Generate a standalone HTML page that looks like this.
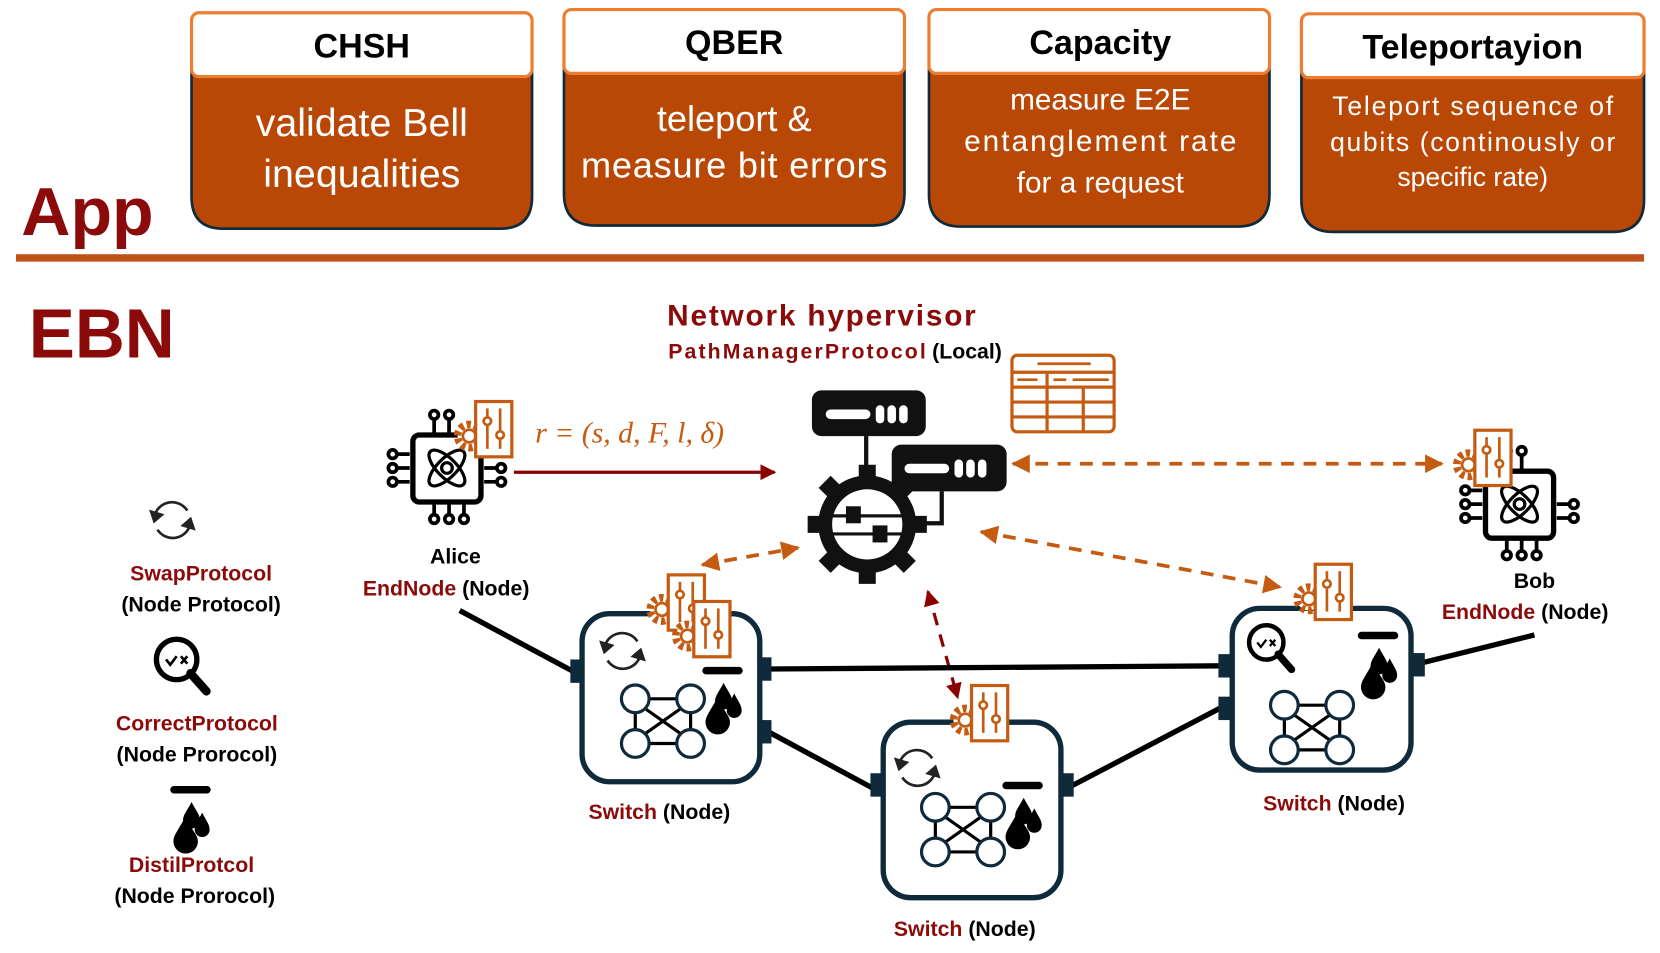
<!DOCTYPE html>
<html><head><meta charset="utf-8"><style>
html,body{margin:0;padding:0;background:#fff;}
svg{display:block;}
text{font-family:"Liberation Sans",sans-serif;}
text.serif{font-family:"Liberation Serif",serif;}
</style></head><body>
<svg width="1660" height="953" viewBox="0 0 1560 896" preserveAspectRatio="none" xmlns="http://www.w3.org/2000/svg">
<defs>
 <marker id="ar" viewBox="0 0 10 10" refX="9" refY="5" markerWidth="5" markerHeight="5" orient="auto-start-reverse"><path d="M0,0L10,5L0,10z" fill="#c55a11"/></marker>
 <marker id="ard" viewBox="0 0 10 10" refX="9" refY="5" markerWidth="5" markerHeight="5" orient="auto-start-reverse"><path d="M0,0L10,5L0,10z" fill="#8b0000"/></marker>
 <marker id="arr" viewBox="0 0 10 10" refX="9" refY="5" markerWidth="5" markerHeight="5" orient="auto"><path d="M0,0L10,5L0,10z" fill="#8b0000"/></marker>
 <g id="ctrl">
  <circle cx="16" cy="34" r="11" fill="#fff" stroke="#c55a11" stroke-width="7" stroke-dasharray="4 3"/>
  <circle cx="16" cy="34" r="6" fill="#fff" stroke="#c55a11" stroke-width="2.5"/>
  <rect x="22" y="1.5" width="34" height="52" fill="#fff" stroke="#c55a11" stroke-width="3"/>
  <line x1="33" y1="8" x2="33" y2="46" stroke="#c55a11" stroke-width="2.5"/>
  <line x1="45" y1="8" x2="45" y2="46" stroke="#c55a11" stroke-width="2.5"/>
  <circle cx="33" cy="20" r="3.5" fill="#fff" stroke="#c55a11" stroke-width="2.5"/>
  <circle cx="45" cy="33" r="3.5" fill="#fff" stroke="#c55a11" stroke-width="2.5"/>
 </g>
 <g id="graph" stroke="#0f2a3a" stroke-width="3" fill="#fff">
  <path d="M13,0H39M13,42H39M0,13V29M52,13V29M9,9L43,33M43,9L9,33" stroke="#000"/>
  <circle cx="0" cy="0" r="13"/><circle cx="52" cy="0" r="13"/><circle cx="0" cy="42" r="13"/><circle cx="52" cy="42" r="13"/>
 </g>
 <g id="drops" fill="#000">
  <rect x="-20" y="-33" width="38" height="7" rx="3.5"/>
  <path d="M0,-18 C4,-10 8,-6 8,-1 A8,8 0 0 1 -8,-1 C-8,-6 -4,-10 0,-18z"/>
  <path d="M10,-8 C14,0 17,3 17,8 A7,7 0 0 1 3,8 C3,3 6,0 10,-8z"/>
  <path d="M-6,-4 C0,8 6,13 6,19 A11,11 0 0 1 -17,19 C-17,13 -12,8 -6,-4z"/>
 </g>
 <g id="swap" fill="none" stroke="#222" stroke-width="2.5">
  <path d="M-17,-3 A17,17 0 0 1 14,-9"/><path d="M17,3 A17,17 0 0 1 -14,9"/>
  <path d="M-20,-8 L-17,1 L-10,-5z" fill="#222"/><path d="M20,8 L17,-1 L10,5z" fill="#222"/>
 </g>
 <g id="mag">
  <circle cx="0" cy="0" r="19" fill="#fff" stroke="#000" stroke-width="5"/>
  <path d="M13,13L28,30" stroke="#000" stroke-width="8" stroke-linecap="round"/>
  <path d="M-10,0L-6,5L0,-3" fill="none" stroke="#000" stroke-width="2.5"/>
  <path d="M4,-3L10,4M10,-3L4,4" stroke="#000" stroke-width="2.5"/>
 </g>
 <g id="chip" fill="none" stroke="#000" stroke-width="3.5">
  <rect x="0" y="0" width="64" height="63" rx="6" stroke-width="5"/>
  <path d="M20,0V-15M34,0V-15M-3,18H-15M-3,31H-15M-3,44H-15M67,31H79M67,44H79M20,63V75M34,63V75M48,63V75"/>
  <g fill="#fff"><circle cx="20" cy="-19" r="4"/><circle cx="34" cy="-19" r="4"/><circle cx="-19" cy="18" r="4"/><circle cx="-19" cy="31" r="4"/><circle cx="-19" cy="44" r="4"/><circle cx="83" cy="31" r="4"/><circle cx="83" cy="44" r="4"/><circle cx="20" cy="79" r="4"/><circle cx="34" cy="79" r="4"/><circle cx="48" cy="79" r="4"/></g>
  <ellipse cx="32" cy="31" rx="22" ry="9" transform="rotate(45 32 31)" stroke-width="3"/>
  <ellipse cx="32" cy="31" rx="22" ry="9" transform="rotate(-45 32 31)" stroke-width="3"/>
  <circle cx="32" cy="31" r="5" stroke-width="3"/>
 </g>
</defs>

<!-- App boxes -->
<g>
 <path d="M180,60 H500 V185 Q500,215 470,215 H210 Q180,215 180,185z" fill="#b94807" stroke="#0f2a3a" stroke-width="2.5"/>
 <rect x="180" y="12" width="320" height="60" rx="7" fill="#fff" stroke="#ed7d31" stroke-width="3"/>
 <text x="340" y="54" font-size="32" font-weight="bold" text-anchor="middle">CHSH</text>
 <text x="340" y="128" font-size="37" fill="#fff" text-anchor="middle">validate Bell</text>
 <text x="340" y="176" font-size="37" fill="#fff" text-anchor="middle">inequalities</text>

 <path d="M530,58 H850 V182 Q850,212 820,212 H560 Q530,212 530,182z" fill="#b94807" stroke="#0f2a3a" stroke-width="2.5"/>
 <rect x="530" y="9" width="320" height="60" rx="7" fill="#fff" stroke="#ed7d31" stroke-width="3"/>
 <text x="690" y="51" font-size="32" font-weight="bold" text-anchor="middle">QBER</text>
 <text x="690" y="123" font-size="34" fill="#fff" text-anchor="middle">teleport  &amp;</text>
 <text x="690" y="167" font-size="34" fill="#fff" text-anchor="middle" textLength="288">measure bit errors</text>

 <path d="M873,58 H1193 V183 Q1193,213 1163,213 H903 Q873,213 873,183z" fill="#b94807" stroke="#0f2a3a" stroke-width="2.5"/>
 <rect x="873" y="9" width="320" height="60" rx="7" fill="#fff" stroke="#ed7d31" stroke-width="3"/>
 <text x="1034" y="51" font-size="32" font-weight="bold" text-anchor="middle">Capacity</text>
 <text x="1034" y="103" font-size="28" fill="#fff" text-anchor="middle">measure  E2E</text>
 <text x="1034" y="142" font-size="28" fill="#fff" text-anchor="middle" textLength="256">entanglement rate</text>
 <text x="1034" y="181" font-size="28" fill="#fff" text-anchor="middle">for a request</text>

 <path d="M1223,62 H1545 V188 Q1545,218 1515,218 H1253 Q1223,218 1223,188z" fill="#b94807" stroke="#0f2a3a" stroke-width="2.5"/>
 <rect x="1223" y="13" width="322" height="60" rx="7" fill="#fff" stroke="#ed7d31" stroke-width="3"/>
 <text x="1384" y="55" font-size="32" font-weight="bold" text-anchor="middle">Teleportayion</text>
 <text x="1384" y="108" font-size="25" fill="#fff" text-anchor="middle" textLength="264">Teleport  sequence of</text>
 <text x="1384" y="142" font-size="25" fill="#fff" text-anchor="middle" textLength="268">qubits (continously or</text>
 <text x="1384" y="175" font-size="25" fill="#fff" text-anchor="middle">specific rate)</text>
</g>
<text x="20" y="221" font-size="64" font-weight="bold" fill="#8b0a0a">App</text>
<rect x="15" y="239" width="1530" height="7" fill="#c0501a"/>
<text x="27" y="336" font-size="65" font-weight="bold" fill="#8b0a0a">EBN</text>

<!-- hypervisor -->
<text x="627" y="306" font-size="28" font-weight="bold" fill="#8b0a0a" textLength="290">Network hypervisor</text>
<text x="628" y="337" font-size="20" font-weight="bold" fill="#8b0a0a" textLength="242">PathManagerProtocol</text>
<text x="876" y="337" font-size="20" font-weight="bold" fill="#000">(Local)</text>
<g stroke="#c55a11" stroke-width="3" fill="none">
 <rect x="951" y="334" width="96" height="72" rx="5"/>
 <path d="M951,350H1047M951,364H1047M951,378H1047M951,392H1047M984,350V406M1018,364V406"/>
 <path d="M975,342H1025M956,357H975M990,357H1002M1008,357H1042" stroke-width="2.5"/>
</g>
<!-- server gear -->
<g fill="#111">
 <rect x="763" y="367" width="107" height="43" rx="9"/>
 <rect x="838" y="418" width="108" height="44" rx="9"/>
 <rect x="776" y="385" width="42" height="9" rx="4.5" fill="#fff"/>
 <rect x="823" y="381" width="8" height="17" rx="4" fill="#fff"/><rect x="834" y="381" width="8" height="17" rx="4" fill="#fff"/><rect x="845" y="381" width="8" height="17" rx="4" fill="#fff"/>
 <rect x="850" y="436" width="42" height="9" rx="4.5" fill="#fff"/>
 <rect x="897" y="432" width="8" height="17" rx="4" fill="#fff"/><rect x="908" y="432" width="8" height="17" rx="4" fill="#fff"/><rect x="919" y="432" width="8" height="17" rx="4" fill="#fff"/>
 <rect x="812" y="410" width="4" height="30"/>
 <path d="M885,462V492H870" fill="none" stroke="#111" stroke-width="4"/>
 <circle cx="815" cy="493" r="46"/>
 <g stroke="#111" stroke-width="16">
  <path d="M815,437V549M759,493H871M775,453L855,533M855,453L775,533"/>
 </g>
 <circle cx="815" cy="493" r="33" fill="#fff"/>
 <path d="M782,485H848M782,502H848" stroke="#111" stroke-width="3"/>
 <rect x="795" y="476" width="14" height="16"/><rect x="820" y="494" width="14" height="16"/>
</g>

<!-- arrows -->
<line x1="483" y1="444" x2="728" y2="444" stroke="#8b0000" stroke-width="3" marker-end="url(#arr)"/>
<text class="serif" x="503" y="416" font-style="italic" font-size="28" fill="#c55a11">r = (s, d, F, l, δ)</text>
<g stroke="#c55a11" stroke-width="3.5" stroke-dasharray="12 9" fill="none">
 <line x1="952" y1="436" x2="1355" y2="436" marker-start="url(#ar)" marker-end="url(#ar)"/>
 <line x1="660" y1="531" x2="750" y2="515" marker-start="url(#ar)" marker-end="url(#ar)"/>
 <line x1="922" y1="500" x2="1203" y2="552" marker-start="url(#ar)" marker-end="url(#ar)"/>
</g>
<line x1="872" y1="556" x2="900" y2="656" stroke="#8b0000" stroke-width="3" stroke-dasharray="12 9" marker-start="url(#ard)" marker-end="url(#ard)"/>

<!-- links -->
<g stroke="#000" stroke-width="5">
 <line x1="432" y1="574" x2="540" y2="632"/>
 <line x1="722" y1="629" x2="1150" y2="626"/>
 <line x1="722" y1="688" x2="822" y2="742"/>
 <line x1="1005" y1="740" x2="1150" y2="664"/>
 <line x1="1333" y1="624" x2="1442" y2="597"/>
</g>

<!-- Alice / Bob -->
<use href="#chip" x="388" y="409"/>
<use href="#ctrl" x="425" y="376"/>
<text x="428" y="530" font-size="20" font-weight="bold" text-anchor="middle">Alice</text>
<text x="341" y="560" font-size="20" font-weight="bold"><tspan fill="#8b0a0a">EndNode</tspan> (Node)</text>
<use href="#chip" x="1396" y="443"/>
<use href="#ctrl" x="1364" y="403"/>
<text x="1442" y="553" font-size="20" font-weight="bold" text-anchor="middle">Bob</text>
<text x="1355" y="582" font-size="20" font-weight="bold"><tspan fill="#8b0a0a">EndNode</tspan> (Node)</text>

<!-- Switch 1 -->
<g>
 <rect x="536" y="620" width="12" height="22" fill="#0f2a3a"/><rect x="713" y="618" width="12" height="22" fill="#0f2a3a"/><rect x="713" y="677" width="12" height="22" fill="#0f2a3a"/>
 <rect x="547" y="577" width="167" height="158" rx="26" fill="#fff" stroke="#0f2a3a" stroke-width="5"/>
 <use href="#swap" x="585" y="612"/>
 <use href="#graph" x="597" y="657"/>
 <use href="#drops" x="680" y="660"/>
 <use href="#ctrl" x="606" y="539"/>
 <use href="#ctrl" x="630" y="564"/>
 <text x="553" y="770" font-size="20" font-weight="bold"><tspan fill="#8b0a0a">Switch</tspan> (Node)</text>
</g>
<!-- Switch 2 -->
<g>
 <rect x="818" y="727" width="12" height="22" fill="#0f2a3a"/><rect x="997" y="727" width="12" height="22" fill="#0f2a3a"/>
 <rect x="830" y="679" width="167" height="165" rx="26" fill="#fff" stroke="#0f2a3a" stroke-width="5"/>
 <use href="#swap" x="862" y="722"/>
 <use href="#graph" x="879" y="759"/>
 <use href="#drops" x="962" y="768"/>
 <use href="#ctrl" x="891" y="643"/>
 <text x="840" y="880" font-size="20" font-weight="bold"><tspan fill="#8b0a0a">Switch</tspan> (Node)</text>
</g>
<!-- Switch 3 -->
<g>
 <rect x="1145" y="615" width="12" height="22" fill="#0f2a3a"/><rect x="1145" y="655" width="12" height="22" fill="#0f2a3a"/><rect x="1327" y="614" width="12" height="22" fill="#0f2a3a"/>
 <rect x="1158" y="572" width="168" height="152" rx="26" fill="#fff" stroke="#0f2a3a" stroke-width="5"/>
 <use href="#mag" x="1190" y="604" transform="translate(1190 604) scale(0.85) translate(-1190 -604)"/>
 <use href="#graph" x="1207" y="663"/>
 <use href="#drops" x="1296" y="627"/>
 <use href="#ctrl" x="1214" y="529"/>
 <text x="1187" y="762" font-size="20" font-weight="bold"><tspan fill="#8b0a0a">Switch</tspan> (Node)</text>
</g>

<!-- legend -->
<use href="#swap" x="162" y="489"/>
<text x="189" y="546" font-size="20" font-weight="bold" fill="#8b0a0a" text-anchor="middle">SwapProtocol</text>
<text x="189" y="575" font-size="20" font-weight="bold" text-anchor="middle">(Node Protocol)</text>
<use href="#mag" x="166" y="620"/>
<text x="185" y="687" font-size="20" font-weight="bold" fill="#8b0a0a" text-anchor="middle">CorrectProtocol</text>
<text x="185" y="716" font-size="20" font-weight="bold" text-anchor="middle">(Node Prorocol)</text>
<use href="#drops" x="180" y="772"/>
<text x="180" y="820" font-size="20" font-weight="bold" fill="#8b0a0a" text-anchor="middle">DistilProtcol</text>
<text x="183" y="849" font-size="20" font-weight="bold" text-anchor="middle">(Node Prorocol)</text>
</svg>
</body></html>
